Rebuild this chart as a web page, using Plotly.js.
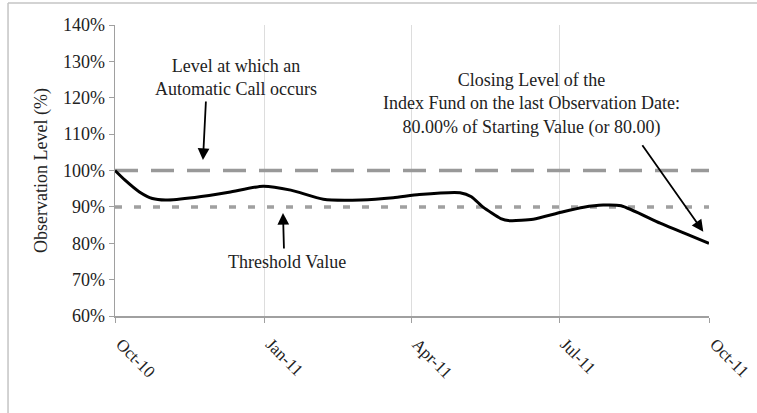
<!DOCTYPE html>
<html>
<head>
<meta charset="utf-8">
<script src="https://cdn.plot.ly/plotly-3.0.1.min.js"></script>
<style>html,body{margin:0;padding:0;background:#fff;}#chart{width:757px;height:413px;}</style>
</head>
<body>
<div id="chart"></div>
<script>
// Observation dates and levels (% of starting value)
var dates = ['2010-10-01','2010-10-07','2010-10-16','2010-10-24','2010-11-01','2010-11-19','2010-12-10',
             '2010-12-31','2011-01-17','2011-02-06','2011-03-01','2011-03-21','2011-04-06','2011-05-01',
             '2011-05-08','2011-05-15','2011-05-26','2011-06-01','2011-06-15','2011-07-02','2011-07-16',
             '2011-07-28','2011-08-08','2011-09-01','2011-09-21','2011-10-01'];
var levels = [100, 97.4, 94.1, 92.3, 91.9, 92.6, 94.0,
              95.7, 94.6, 92.1, 91.9, 92.5, 93.4, 93.9,
              92.8, 90.0, 86.8, 86.2, 86.6, 88.5, 89.9,
              90.5, 90.3, 85.5, 81.8, 80.0];
var autoCallLevel = 100;
var thresholdLevel = 90;
var tickDates = ['2010-10-01','2011-01-01','2011-04-01','2011-07-01','2011-10-01'];
var tickLabels = ['Oct-10','Jan-11','Apr-11','Jul-11','Oct-11'];

var serif = '"Liberation Serif", "Times New Roman", serif';
var txtColor = '#222';
var annFont = {family: serif, size: 18, color: txtColor};

var firstDate = dates[0], lastDate = dates[dates.length - 1];

var traces = [
  {x: [firstDate, lastDate], y: [autoCallLevel, autoCallLevel], type: 'scatter', mode: 'lines',
   line: {color: '#999999', width: 3.5, dash: '23px,13px'}, hoverinfo: 'skip'},
  {x: [firstDate, lastDate], y: [thresholdLevel, thresholdLevel], type: 'scatter', mode: 'lines',
   line: {color: '#a0a0a0', width: 3.5, dash: '7px,12px'}, hoverinfo: 'skip'},
  {x: dates, y: levels, type: 'scatter', mode: 'lines',
   line: {color: '#000', width: 3, shape: 'spline', smoothing: 0.6}}
];

var layout = {
  width: 757, height: 413,
  margin: {l: 115, r: 48, t: 25, b: 97},
  paper_bgcolor: '#fff', plot_bgcolor: '#fff',
  showlegend: false,
  font: {family: serif, size: 18, color: txtColor},
  xaxis: {
    type: 'date', range: [firstDate, lastDate],
    tickmode: 'array', tickvals: tickDates, ticktext: tickLabels,
    tickangle: 45, ticks: 'outside', ticklen: 5, tickcolor: '#a0a0a0',
    ticklabelstandoff: 5, ticklabelshift: 6, ticklabeloverflow: 'allow',
    showgrid: true, gridcolor: '#dddddd', gridwidth: 1,
    showline: true, linecolor: '#a0a0a0', linewidth: 1.5,
    zeroline: false, tickfont: {family: serif, size: 17, color: txtColor}
  },
  yaxis: {
    range: [60, 140], dtick: 10, tick0: 60, ticksuffix: '%',
    ticks: 'outside', ticklen: 5, tickcolor: '#a0a0a0',
    showgrid: false, showline: true, linecolor: '#a0a0a0', linewidth: 1.5,
    zeroline: false, tickfont: {family: serif, size: 18, color: txtColor},
    title: {text: 'Observation Level (%)', font: {family: serif, size: 18, color: txtColor}, standoff: 10}
  },
  shapes: [
    {type: 'line', xref: 'paper', yref: 'paper', x0: -0.1801, x1: 1.3, y0: 1.0756, y1: 1.0756,
     line: {color: '#c4c4c4', width: 1.5}},
    {type: 'line', xref: 'paper', yref: 'paper', x0: -0.1801, x1: -0.1801, y0: 1.0756, y1: -0.5,
     line: {color: '#c4c4c4', width: 1.5}}
  ],
  annotations: [
    {xref: 'paper', yref: 'paper', x: 0.2037, y: 0.8213, xanchor: 'center', yanchor: 'middle',
     text: 'Level at which an<br>Automatic Call occurs', showarrow: false, align: 'center', font: annFont},
    {xref: 'paper', yref: 'paper', x: 0.2896, y: 0.1856, xanchor: 'center', yanchor: 'middle',
     text: 'Threshold Value', showarrow: false, font: annFont},
    {xref: 'paper', yref: 'paper', x: 0.702, y: 0.730, xanchor: 'center', yanchor: 'middle',
     text: 'Closing Level of the<br>Index Fund on the last Observation Date:<br>80.00% of Starting Value (or 80.00)',
     showarrow: false, align: 'center', font: annFont},
    {xref: 'paper', yref: 'paper', x: 0.1481, y: 0.536, ax: 3, ay: -60, text: '', showarrow: true,
     arrowhead: 2, arrowsize: 1.3, arrowwidth: 1.8, arrowcolor: '#000', standoff: 0},
    {xref: 'paper', yref: 'paper', x: 0.2828, y: 0.354, ax: 1, ay: 37, text: '', showarrow: true,
     arrowhead: 2, arrowsize: 1.3, arrowwidth: 1.8, arrowcolor: '#000', standoff: 0},
    {xref: 'paper', yref: 'paper', x: 0.9904, y: 0.2897, ax: -62, ay: -88, text: '', showarrow: true,
     arrowhead: 2, arrowsize: 1.3, arrowwidth: 1.8, arrowcolor: '#000', standoff: 0}
  ]
};

Plotly.newPlot('chart', traces, layout, {displayModeBar: false, staticPlot: true});
</script>
</body>
</html>
